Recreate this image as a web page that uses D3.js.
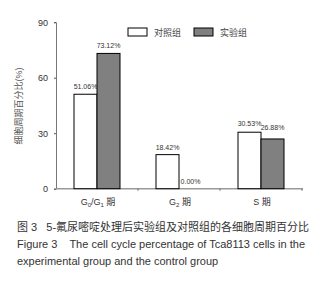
<!DOCTYPE html>
<html lang="zh">
<head>
<meta charset="UTF-8">
<script src="https://d3js.org/d3.v7.min.js"></script>
<style>
  body { margin: 0; background: #fff; }
  svg { display: block; font-family: "Liberation Sans", Arial, "Noto Sans CJK SC", sans-serif; }
  .cap text { white-space: pre; }
</style>
</head>
<body>
<div id="chart"></div>
<script>
// 数据
var categories = ["G0/G1", "G2", "S"];
var seriesNames = ["对照组", "实验组"];
var control = [51.06, 18.42, 30.53];
var experiment = [73.12, 0.00, 26.88];
var yTicks = [0, 30, 60, 90];

var width = 333, height = 282;
var x0 = 56, x1 = 302, yTop = 22.2, yBottom = 188.7;

var svg = d3.select("#chart").append("svg").attr("width", width).attr("height", height);

var x = d3.scaleBand().domain(categories).range([x0, x1]);
var y = d3.scaleLinear().domain([0, 90]).range([yBottom, yTop]);
var barW = 23;
var fills = ["#ffffff", "#808080"];

// y 轴
var yAxis = svg.append("g").attr("transform", "translate(" + x0 + ",0)")
  .call(d3.axisLeft(y).tickValues(yTicks).tickSize(2).tickPadding(6));
yAxis.select(".domain").attr("stroke", "#777");
yAxis.selectAll(".tick line").attr("stroke", "#555");
yAxis.selectAll("text").attr("font-size", 9).attr("fill", "#333");

// x 轴
var xAxis = svg.append("g").attr("transform", "translate(0," + yBottom + ")");
xAxis.append("line").attr("x1", x0).attr("x2", x1 + 1).attr("stroke", "#999").attr("stroke-width", 1.5);
xAxis.selectAll(".xt").data(categories).enter().append("line")
  .attr("x1", function(d) { return x(d) + x.bandwidth(); })
  .attr("x2", function(d) { return x(d) + x.bandwidth(); })
  .attr("y1", 0).attr("y2", 2).attr("stroke", "#666");

// 柱
var groups = [control, experiment];
groups.forEach(function(vals, s) {
  categories.forEach(function(c, i) {
    var cx = x(c) + x.bandwidth() / 2;
    var bx = s === 0 ? cx - barW : cx;
    var v = vals[i];
    if (v > 0) {
      svg.append("rect")
        .attr("x", bx).attr("y", y(v))
        .attr("width", barW).attr("height", y(0) - y(v))
        .attr("fill", fills[s]).attr("stroke", "#000").attr("stroke-width", 1);
    }
    var ly = y(v) - 5;
    var lx = bx + barW / 2;
    if (c === "S" && s === 1) ly = y(control[i]) - 2;
    if (c === "S" && s === 0) ly = y(v) - 6;
    svg.append("text").attr("x", lx).attr("y", ly)
      .attr("text-anchor", "middle").attr("font-size", 7).attr("fill", "#333")
      .text(v.toFixed(2) + "%");
  });
});

// 类别标签
var catLabels = svg.append("g").attr("font-size", 9).attr("fill", "#333");
categories.forEach(function(c) {
  var cx = x(c) + x.bandwidth() / 2 + 1;
  var t = catLabels.append("text").attr("x", cx).attr("y", 205).attr("text-anchor", "middle");
  if (c === "G0/G1") {
    t.append("tspan").text("G");
    t.append("tspan").attr("font-size", 6).attr("dy", 1.5).text("0");
    t.append("tspan").attr("dy", -1.5).text("/G");
    t.append("tspan").attr("font-size", 6).attr("dy", 1.5).text("1");
    t.append("tspan").attr("dy", -1.5).text(" 期");
  } else if (c === "G2") {
    t.append("tspan").text("G");
    t.append("tspan").attr("font-size", 6).attr("dy", 1.5).text("2");
    t.append("tspan").attr("dy", -1.5).text(" 期");
  } else {
    t.text("S 期");
  }
});

// y 轴标题
svg.append("text")
  .attr("transform", "translate(22,106) rotate(-90)")
  .attr("text-anchor", "middle").attr("font-size", 9).attr("fill", "#555")
  .text("细胞周期百分比(%)");

// 图例
var legend = svg.append("g").attr("font-size", 9).attr("fill", "#444");
var legX = [128, 194];
seriesNames.forEach(function(n, i) {
  legend.append("rect").attr("x", legX[i]).attr("y", 28).attr("width", 19).attr("height", 8)
    .attr("fill", fills[i]).attr("stroke", "#000");
  legend.append("text").attr("x", legX[i] + 26).attr("y", 35.5).text(n);
});

// 图注
var cap = svg.append("g").attr("class", "cap").attr("font-size", 11).attr("fill", "#333");
cap.append("text").attr("x", 17).attr("y", 231).text("图 3   5-氟尿嘧啶处理后实验组及对照组的各细胞周期百分比");
cap.append("text").attr("x", 17).attr("y", 248).text("Figure 3    The cell cycle percentage of Tca8113 cells in the");
cap.append("text").attr("x", 17).attr("y", 265).text("experimental group and the control group");
</script>
</body>
</html>
